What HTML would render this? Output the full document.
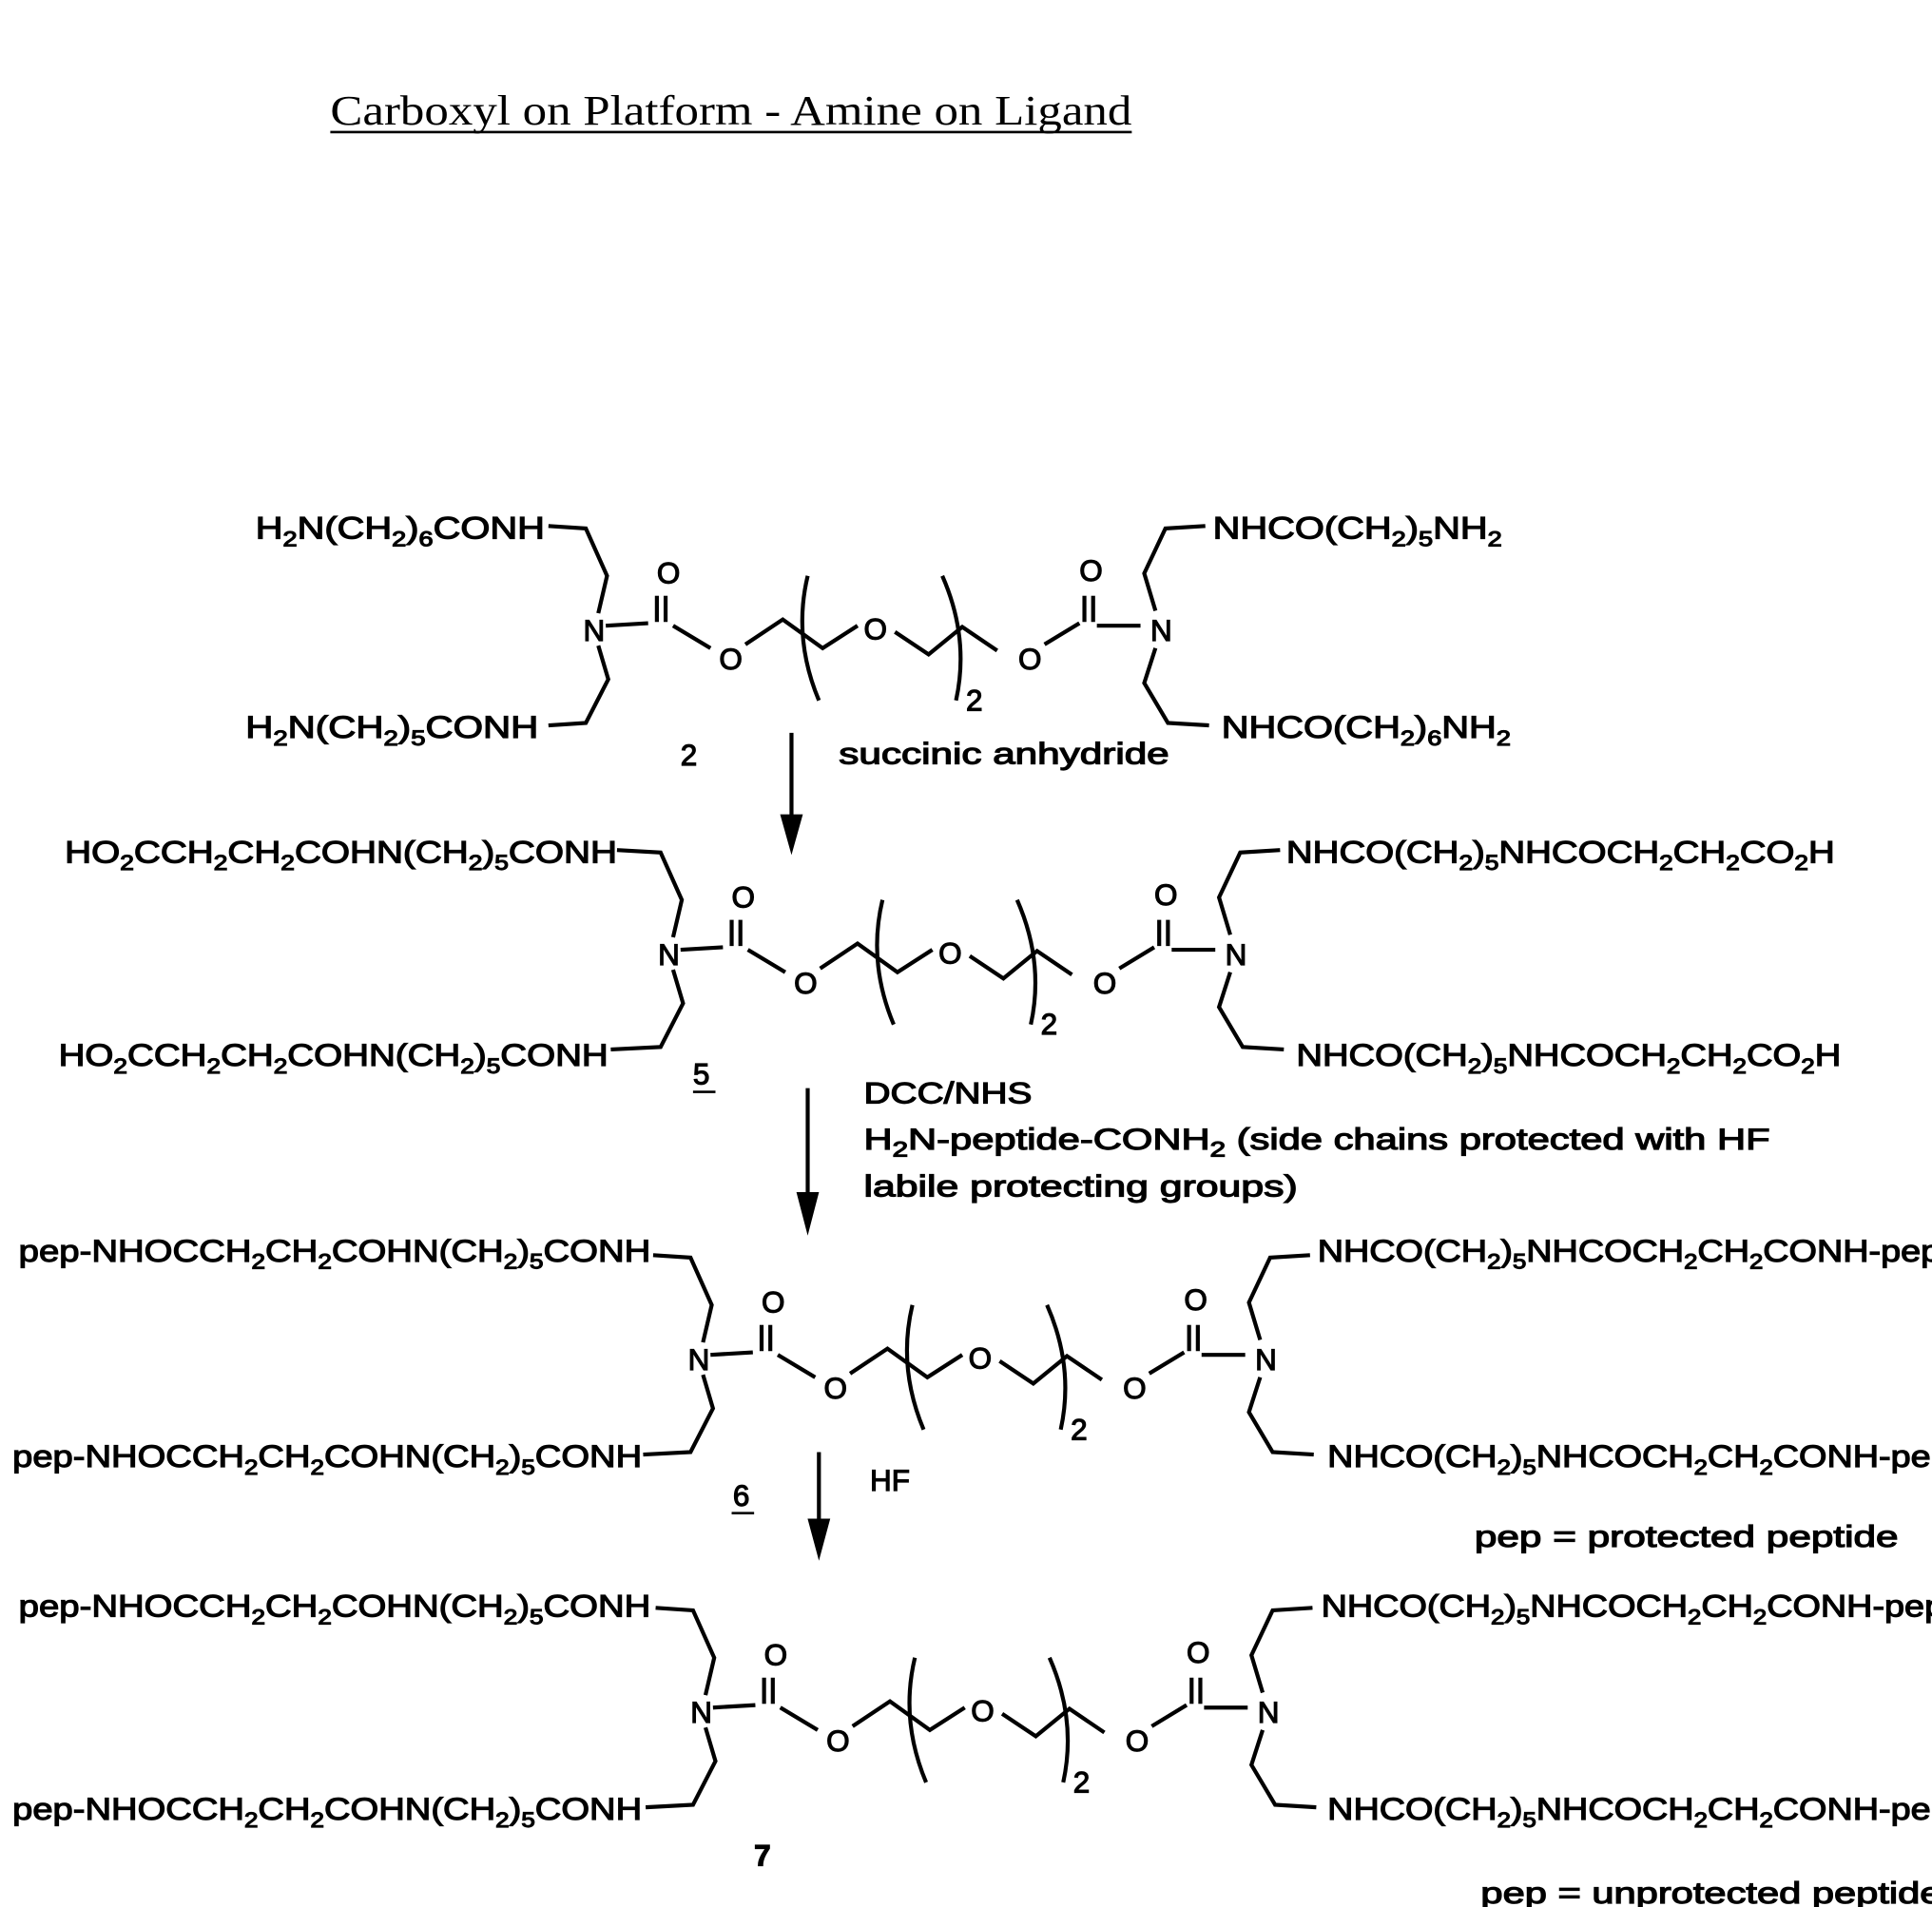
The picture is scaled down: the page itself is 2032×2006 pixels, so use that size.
<!DOCTYPE html>
<html><head><meta charset="utf-8"><style>
html,body{margin:0;padding:0;background:#fff}
svg{display:block}
text{font-family:"Liberation Sans",sans-serif;fill:#000;stroke:#000;stroke-width:0.9}
.t{font-size:25px}
.s{font-size:17px}
.a{font-size:24px}
.ti{font-family:"Liberation Serif",serif;font-size:34px;stroke-width:0}
path,line{stroke:#000;stroke-width:3.2;fill:none}
</style></head><body>
<svg width="2032" height="2006" viewBox="0 0 1550 1530" preserveAspectRatio="none" xmlns="http://www.w3.org/2000/svg">
<text class="ti" x="265" y="100" textLength="643" lengthAdjust="spacingAndGlyphs">Carboxyl on Platform - Amine on Ligand</text>
<line x1="265" y1="106" x2="908" y2="106" style="stroke-width:2"/>

<g>
<text class="a" x="468" y="514">N</text>
<path d="M486,502 L520,500"/>
<line x1="527" y1="478" x2="527" y2="499"/><line x1="534" y1="478" x2="534" y2="499"/>
<text class="a" x="527" y="468">O</text>
<path d="M540,502 L570,520"/>
<text class="a" x="577" y="537">O</text>
<path d="M598,517 L628,497 L660,520 L688,502"/>
<path d="M648,462 Q636,512 657,562"/>
<text class="a" x="693" y="513">O</text>
<path d="M718,507 L745,525 L772,503 L800,522"/>
<path d="M756,462 Q778,512 767,562"/>
<text class="a" x="775" y="570">2</text>
<text class="a" x="817" y="537">O</text>
<path d="M838,517 L866,500"/>
<line x1="870" y1="478" x2="870" y2="499"/><line x1="877" y1="478" x2="877" y2="499"/>
<text class="a" x="866" y="466">O</text>
<path d="M880,502 L915,502"/>
<text class="a" x="923" y="514">N</text>
<path d="M480,492 L487,462 L470,424 L440,422"/>
<path d="M480,518 L488,545 L470,580 L440,582"/>
<path d="M927,490 L918,460 L935,424 L967,422"/>
<path d="M927,520 L918,548 L937,580 L970,582"/>
</g>
<g transform="translate(60,260)">
<text class="a" x="468" y="514">N</text>
<path d="M486,502 L520,500"/>
<line x1="527" y1="478" x2="527" y2="499"/><line x1="534" y1="478" x2="534" y2="499"/>
<text class="a" x="527" y="468">O</text>
<path d="M540,502 L570,520"/>
<text class="a" x="577" y="537">O</text>
<path d="M598,517 L628,497 L660,520 L688,502"/>
<path d="M648,462 Q636,512 657,562"/>
<text class="a" x="693" y="513">O</text>
<path d="M718,507 L745,525 L772,503 L800,522"/>
<path d="M756,462 Q778,512 767,562"/>
<text class="a" x="775" y="570">2</text>
<text class="a" x="817" y="537">O</text>
<path d="M838,517 L866,500"/>
<line x1="870" y1="478" x2="870" y2="499"/><line x1="877" y1="478" x2="877" y2="499"/>
<text class="a" x="866" y="466">O</text>
<path d="M880,502 L915,502"/>
<text class="a" x="923" y="514">N</text>
<path d="M480,492 L487,462 L470,424 L435,422"/>
<path d="M480,518 L488,545 L470,580 L430,582"/>
<path d="M927,490 L918,460 L935,424 L967,422"/>
<path d="M927,520 L918,548 L937,580 L970,582"/>
</g>
<g transform="translate(84,585)">
<text class="a" x="468" y="514">N</text>
<path d="M486,502 L520,500"/>
<line x1="527" y1="478" x2="527" y2="499"/><line x1="534" y1="478" x2="534" y2="499"/>
<text class="a" x="527" y="468">O</text>
<path d="M540,502 L570,520"/>
<text class="a" x="577" y="537">O</text>
<path d="M598,517 L628,497 L660,520 L688,502"/>
<path d="M648,462 Q636,512 657,562"/>
<text class="a" x="693" y="513">O</text>
<path d="M718,507 L745,525 L772,503 L800,522"/>
<path d="M756,462 Q778,512 767,562"/>
<text class="a" x="775" y="570">2</text>
<text class="a" x="817" y="537">O</text>
<path d="M838,517 L866,500"/>
<line x1="870" y1="478" x2="870" y2="499"/><line x1="877" y1="478" x2="877" y2="499"/>
<text class="a" x="866" y="466">O</text>
<path d="M880,502 L915,502"/>
<text class="a" x="923" y="514">N</text>
<path d="M480,492 L487,462 L470,424 L440,422"/>
<path d="M480,518 L488,545 L470,580 L432,582"/>
<path d="M927,490 L918,460 L935,424 L967,422"/>
<path d="M927,520 L918,548 L937,580 L970,582"/>
</g>
<g transform="translate(86,868)">
<text class="a" x="468" y="514">N</text>
<path d="M486,502 L520,500"/>
<line x1="527" y1="478" x2="527" y2="499"/><line x1="534" y1="478" x2="534" y2="499"/>
<text class="a" x="527" y="468">O</text>
<path d="M540,502 L570,520"/>
<text class="a" x="577" y="537">O</text>
<path d="M598,517 L628,497 L660,520 L688,502"/>
<path d="M648,462 Q636,512 657,562"/>
<text class="a" x="693" y="513">O</text>
<path d="M718,507 L745,525 L772,503 L800,522"/>
<path d="M756,462 Q778,512 767,562"/>
<text class="a" x="775" y="570">2</text>
<text class="a" x="817" y="537">O</text>
<path d="M838,517 L866,500"/>
<line x1="870" y1="478" x2="870" y2="499"/><line x1="877" y1="478" x2="877" y2="499"/>
<text class="a" x="866" y="466">O</text>
<path d="M880,502 L915,502"/>
<text class="a" x="923" y="514">N</text>
<path d="M480,492 L487,462 L470,424 L440,422"/>
<path d="M480,518 L488,545 L470,580 L432,582"/>
<path d="M927,490 L918,460 L935,424 L967,422"/>
<path d="M927,520 L918,548 L937,580 L970,582"/>
</g>

<text class="t" x="205" y="432" textLength="232" lengthAdjust="spacingAndGlyphs">H<tspan class="s" dy="6">2</tspan><tspan dy="-6">N(CH</tspan><tspan class="s" dy="6">2</tspan><tspan dy="-6">)</tspan><tspan class="s" dy="6">6</tspan><tspan dy="-6">CONH</tspan></text>
<text class="t" x="197" y="592" textLength="235" lengthAdjust="spacingAndGlyphs">H<tspan class="s" dy="6">2</tspan><tspan dy="-6">N(CH</tspan><tspan class="s" dy="6">2</tspan><tspan dy="-6">)</tspan><tspan class="s" dy="6">5</tspan><tspan dy="-6">CONH</tspan></text>
<text class="t" x="973" y="432" textLength="232" lengthAdjust="spacingAndGlyphs">NHCO(CH<tspan class="s" dy="6">2</tspan><tspan dy="-6">)</tspan><tspan class="s" dy="6">5</tspan><tspan dy="-6">NH</tspan><tspan class="s" dy="6">2</tspan></text>
<text class="t" x="980" y="592" textLength="232" lengthAdjust="spacingAndGlyphs">NHCO(CH<tspan class="s" dy="6">2</tspan><tspan dy="-6">)</tspan><tspan class="s" dy="6">6</tspan><tspan dy="-6">NH</tspan><tspan class="s" dy="6">2</tspan></text>
<text class="a" x="546" y="614">2</text>
<text class="a" x="673" y="613" textLength="265" lengthAdjust="spacingAndGlyphs">succinic anhydride</text>
<line x1="635" y1="588" x2="635" y2="672"/><path d="M628,655 L635,680 L642,655 Z" style="fill:#000"/>

<text class="t" x="52" y="692" textLength="443" lengthAdjust="spacingAndGlyphs">HO<tspan class="s" dy="6">2</tspan><tspan dy="-6">CCH</tspan><tspan class="s" dy="6">2</tspan><tspan dy="-6">CH</tspan><tspan class="s" dy="6">2</tspan><tspan dy="-6">COHN(CH</tspan><tspan class="s" dy="6">2</tspan><tspan dy="-6">)</tspan><tspan class="s" dy="6">5</tspan><tspan dy="-6">CONH</tspan></text>
<text class="t" x="47" y="855" textLength="441" lengthAdjust="spacingAndGlyphs">HO<tspan class="s" dy="6">2</tspan><tspan dy="-6">CCH</tspan><tspan class="s" dy="6">2</tspan><tspan dy="-6">CH</tspan><tspan class="s" dy="6">2</tspan><tspan dy="-6">COHN(CH</tspan><tspan class="s" dy="6">2</tspan><tspan dy="-6">)</tspan><tspan class="s" dy="6">5</tspan><tspan dy="-6">CONH</tspan></text>
<text class="t" x="1032" y="692" textLength="440" lengthAdjust="spacingAndGlyphs">NHCO(CH<tspan class="s" dy="6">2</tspan><tspan dy="-6">)</tspan><tspan class="s" dy="6">5</tspan><tspan dy="-6">NHCOCH</tspan><tspan class="s" dy="6">2</tspan><tspan dy="-6">CH</tspan><tspan class="s" dy="6">2</tspan><tspan dy="-6">CO</tspan><tspan class="s" dy="6">2</tspan><tspan dy="-6">H</tspan></text>
<text class="t" x="1040" y="855" textLength="437" lengthAdjust="spacingAndGlyphs">NHCO(CH<tspan class="s" dy="6">2</tspan><tspan dy="-6">)</tspan><tspan class="s" dy="6">5</tspan><tspan dy="-6">NHCOCH</tspan><tspan class="s" dy="6">2</tspan><tspan dy="-6">CH</tspan><tspan class="s" dy="6">2</tspan><tspan dy="-6">CO</tspan><tspan class="s" dy="6">2</tspan><tspan dy="-6">H</tspan></text>
<text class="a" x="556" y="870">5</text><line x1="556" y1="876" x2="574" y2="876" style="stroke-width:2"/>
<line x1="648" y1="873" x2="648" y2="975"/><path d="M641,958 L648,985 L655,958 Z" style="fill:#000"/>
<text class="a" x="693" y="885" textLength="135" lengthAdjust="spacingAndGlyphs">DCC/NHS</text>
<text class="a" x="693" y="922" textLength="727" lengthAdjust="spacingAndGlyphs">H<tspan class="s" dy="6">2</tspan><tspan dy="-6">N-peptide-CONH</tspan><tspan class="s" dy="6">2</tspan><tspan dy="-6"> (side chains protected with HF</tspan></text>
<text class="a" x="693" y="960" textLength="348" lengthAdjust="spacingAndGlyphs">labile protecting groups)</text>

<text class="t" x="15" y="1012" textLength="507" lengthAdjust="spacingAndGlyphs">pep-NHOCCH<tspan class="s" dy="6">2</tspan><tspan dy="-6">CH</tspan><tspan class="s" dy="6">2</tspan><tspan dy="-6">COHN(CH</tspan><tspan class="s" dy="6">2</tspan><tspan dy="-6">)</tspan><tspan class="s" dy="6">5</tspan><tspan dy="-6">CONH</tspan></text>
<text class="t" x="10" y="1177" textLength="505" lengthAdjust="spacingAndGlyphs">pep-NHOCCH<tspan class="s" dy="6">2</tspan><tspan dy="-6">CH</tspan><tspan class="s" dy="6">2</tspan><tspan dy="-6">COHN(CH</tspan><tspan class="s" dy="6">2</tspan><tspan dy="-6">)</tspan><tspan class="s" dy="6">5</tspan><tspan dy="-6">CONH</tspan></text>
<text class="t" x="1057" y="1012" textLength="500" lengthAdjust="spacingAndGlyphs">NHCO(CH<tspan class="s" dy="6">2</tspan><tspan dy="-6">)</tspan><tspan class="s" dy="6">5</tspan><tspan dy="-6">NHCOCH</tspan><tspan class="s" dy="6">2</tspan><tspan dy="-6">CH</tspan><tspan class="s" dy="6">2</tspan><tspan dy="-6">CONH-pep</tspan></text>
<text class="t" x="1065" y="1177" textLength="500" lengthAdjust="spacingAndGlyphs">NHCO(CH<tspan class="s" dy="6">2</tspan><tspan dy="-6">)</tspan><tspan class="s" dy="6">5</tspan><tspan dy="-6">NHCOCH</tspan><tspan class="s" dy="6">2</tspan><tspan dy="-6">CH</tspan><tspan class="s" dy="6">2</tspan><tspan dy="-6">CONH-pep</tspan></text>
<text class="a" x="588" y="1208">6</text><line x1="587" y1="1214" x2="605" y2="1214" style="stroke-width:2"/>
<line x1="657" y1="1165" x2="657" y2="1235"/><path d="M650,1220 L657,1246 L664,1220 Z" style="fill:#000"/>
<text class="a" x="698" y="1196">HF</text>
<text class="a" x="1183" y="1241" textLength="340" lengthAdjust="spacingAndGlyphs">pep = protected peptide</text>

<text class="t" x="15" y="1297" textLength="507" lengthAdjust="spacingAndGlyphs">pep-NHOCCH<tspan class="s" dy="6">2</tspan><tspan dy="-6">CH</tspan><tspan class="s" dy="6">2</tspan><tspan dy="-6">COHN(CH</tspan><tspan class="s" dy="6">2</tspan><tspan dy="-6">)</tspan><tspan class="s" dy="6">5</tspan><tspan dy="-6">CONH</tspan></text>
<text class="t" x="10" y="1460" textLength="505" lengthAdjust="spacingAndGlyphs">pep-NHOCCH<tspan class="s" dy="6">2</tspan><tspan dy="-6">CH</tspan><tspan class="s" dy="6">2</tspan><tspan dy="-6">COHN(CH</tspan><tspan class="s" dy="6">2</tspan><tspan dy="-6">)</tspan><tspan class="s" dy="6">5</tspan><tspan dy="-6">CONH</tspan></text>
<text class="t" x="1060" y="1297" textLength="500" lengthAdjust="spacingAndGlyphs">NHCO(CH<tspan class="s" dy="6">2</tspan><tspan dy="-6">)</tspan><tspan class="s" dy="6">5</tspan><tspan dy="-6">NHCOCH</tspan><tspan class="s" dy="6">2</tspan><tspan dy="-6">CH</tspan><tspan class="s" dy="6">2</tspan><tspan dy="-6">CONH-pep</tspan></text>
<text class="t" x="1065" y="1460" textLength="500" lengthAdjust="spacingAndGlyphs">NHCO(CH<tspan class="s" dy="6">2</tspan><tspan dy="-6">)</tspan><tspan class="s" dy="6">5</tspan><tspan dy="-6">NHCOCH</tspan><tspan class="s" dy="6">2</tspan><tspan dy="-6">CH</tspan><tspan class="s" dy="6">2</tspan><tspan dy="-6">CONH-pep</tspan></text>
<text class="a" x="605" y="1497" style="font-weight:bold">7</text>
<text class="a" x="1188" y="1527" textLength="370" lengthAdjust="spacingAndGlyphs">pep = unprotected peptide</text>
</svg>
</body></html>
